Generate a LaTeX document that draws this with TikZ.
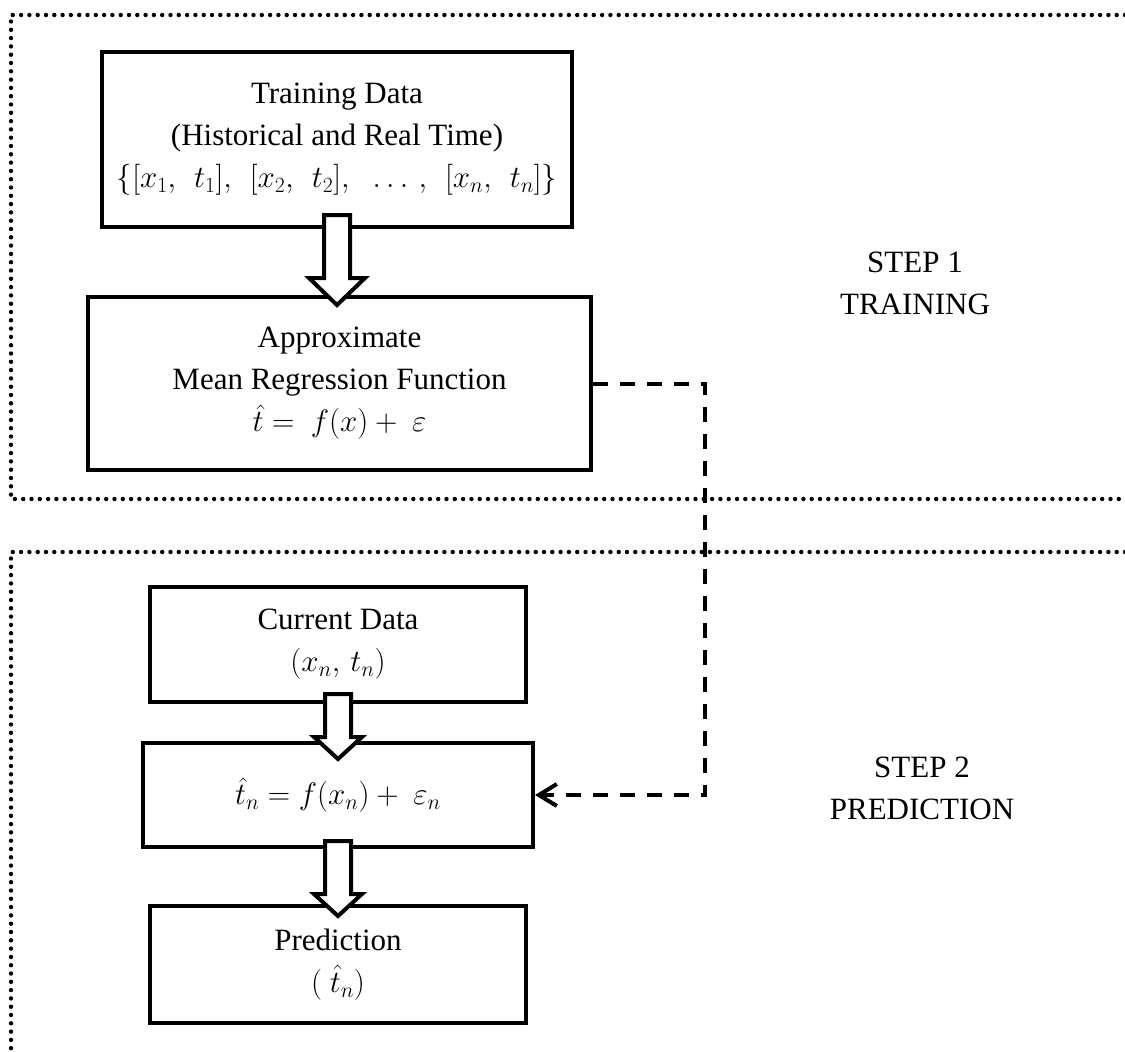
\RequirePackage{fix-cm}
\documentclass[tikz,border=0pt]{standalone}
\usepackage{fontspec}
\setmainfont{Liberation Serif}
\usetikzlibrary{arrows.meta,calc}
\newcommand\blkarr[4]{\draw[blk] let \p1=#1, \p2=#2 in
  (\x1-13pt,\y1) -- (\x1-13pt,\y2+#4pt) -- (\x1-#3pt,\y2+#4pt) -- (\x1,\y2)
  -- (\x1+#3pt,\y2+#4pt) -- (\x1+13pt,\y2+#4pt) -- (\x1+13pt,\y1) -- cycle;}
\newcommand\cs{,\ \,}
\begin{document}
\begin{tikzpicture}[x=1pt,y=-1pt,
  box/.style={draw, line width=4pt, inner sep=0pt, align=center,
    font=\fontsize{31}{42}\selectfont},
  lbl/.style={inner sep=0pt, align=center, font=\fontsize{31}{42}\selectfont},
  blk/.style={draw, line width=4pt, fill=white, line join=miter},
  dotf/.style={line width=4.4pt, line cap=round, dash pattern=on 0pt off 8.3pt},
  dsh/.style={line width=4pt, dash pattern=on 15pt off 12pt}]
\useasboundingbox (0,0) rectangle (1125,1052);
% frames
\draw[dotf] (1125,15) -- (11,15) -- (11,499) -- (1125,499);
\draw[dotf] (1125,552) -- (11,552) -- (11,1052);
% boxes
\node[box, minimum width=470, minimum height=175] (b1) at (337,139.5)
  {Training Data\\(Historical and Real Time)\\$\{[x_1\cs t_1]\cs [x_2\cs t_2]\cs\,\ldots\,\cs [x_n\cs t_n]\}$};
\node[box, minimum width=503, minimum height=173] (b2) at (339.5,383.5)
  {Approximate\\Mean Regression Function\\$\hat{t} =\ f(x) +\ \varepsilon$};
\node[box, minimum width=376, minimum height=115] (b3) at (338,644.5)
  {Current Data\\$(x_n,\,t_n)$};
\node[box, minimum width=390, minimum height=104] (b4) at (338,795)
  {$\hat{t}_n = f(x_n) +\ \varepsilon_n$};
\node[box, minimum width=376, minimum height=117] (b5) at (338,964.5)
  {Prediction\\$(\ \hat{t}_n)$};
% block arrows
\blkarr{($(b1.south)+(0,-14)$)}{($(b2.north)+(0,10)$)}{28}{27}
\blkarr{($(b3.south)+(0,-10)$)}{($(b4.north)+(0,18)$)}{24}{22}
\blkarr{($(b4.south)+(0,-8)$)}{($(b5.north)+(0,12)$)}{24}{22}
% dashed connector
\coordinate (turn) at ($(b2.east)+(112,0)$);
\draw[dsh, -{Straight Barb[length=18pt,width=22pt,line width=4pt]}]
  (b2.east) -- (turn) |- (b4.east);
% step labels
\node[lbl] (s1) at (915,283) {STEP 1\\TRAINING};
\node[lbl] (s2) at (922,788) {STEP 2\\PREDICTION};
\end{tikzpicture}
\end{document}
